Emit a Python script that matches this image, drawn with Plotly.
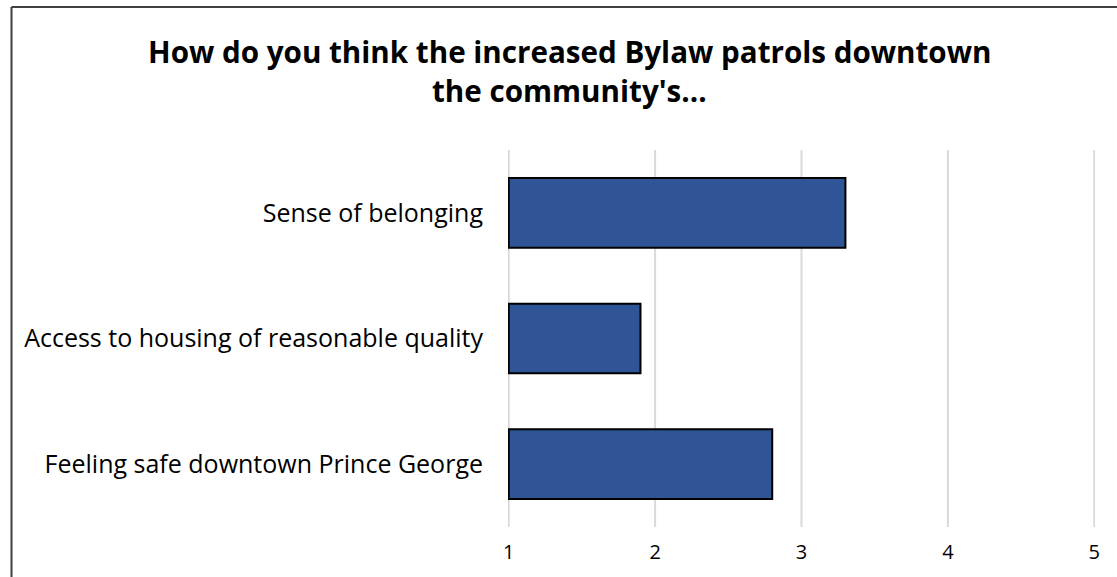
import plotly.graph_objects as go

categories = ["Feeling safe downtown Prince George",
              "Access to housing of reasonable quality",
              "Sense of belonging"]
values = [2.8, 1.9, 3.3]
tick_vals = [1, 2, 3, 4, 5]
tick_text = ["1", "2", "3", "4", "5"]
title_lines = ["How do you think the increased Bylaw patrols downtown",
               "the community's..."]

W, H = 1117, 577
ml, mr, mt, mb = 508, 22, 150, 50
pw, ph = W - ml - mr, H - mt - mb

base = 1
fig = go.Figure(go.Bar(
    y=categories,
    x=[v - base for v in values],
    base=base,
    orientation="h",
    width=0.555,
    marker=dict(color="#2f5597", line=dict(color="#000000", width=2)),
))

font_family = "Open Sans, Noto Sans, sans-serif"

fig.update_layout(
    width=W, height=H,
    margin=dict(l=ml, r=mr, t=mt, b=mb),
    paper_bgcolor="white", plot_bgcolor="white",
    showlegend=False,
    font=dict(family=font_family, color="#000000"),
    xaxis=dict(range=[0.995, 5.005], tickvals=tick_vals, ticktext=tick_text,
               showgrid=False, zeroline=False, showline=False, ticks="",
               ticklabelstandoff=11,
               tickfont=dict(size=20, color="#000000")),
    yaxis=dict(categoryorder="array", categoryarray=categories,
               range=[-0.5, 2.5], showgrid=False, zeroline=False,
               showline=False, ticks="", ticklabelstandoff=24,
               tickfont=dict(size=25, color="#000000")),
)

for tv in tick_vals:
    fig.add_shape(type="line", xref="x", yref="paper", x0=tv, x1=tv, y0=0, y1=1,
                  layer="below", line=dict(color="#d9d9d9", width=2))

for line, py in zip(title_lines, [52, 90]):
    fig.add_annotation(text="<b>" + line + "</b>", xref="paper", yref="paper",
                       x=(569 - ml) / pw, y=(H - mb - py) / ph,
                       xanchor="center", yanchor="middle", showarrow=False,
                       font=dict(size=29.6, family=font_family, color="#000000"))

bx = (11.5 - ml) / pw
by = (H - mb - 7) / ph
fig.add_shape(type="line", xref="paper", yref="paper", x0=bx, x1=bx, y0=-0.5, y1=by,
              line=dict(color="#404040", width=2))
fig.add_shape(type="line", xref="paper", yref="paper", x0=bx, x1=1.2, y0=by, y1=by,
              line=dict(color="#404040", width=2))

fig.write_html("out.html")
